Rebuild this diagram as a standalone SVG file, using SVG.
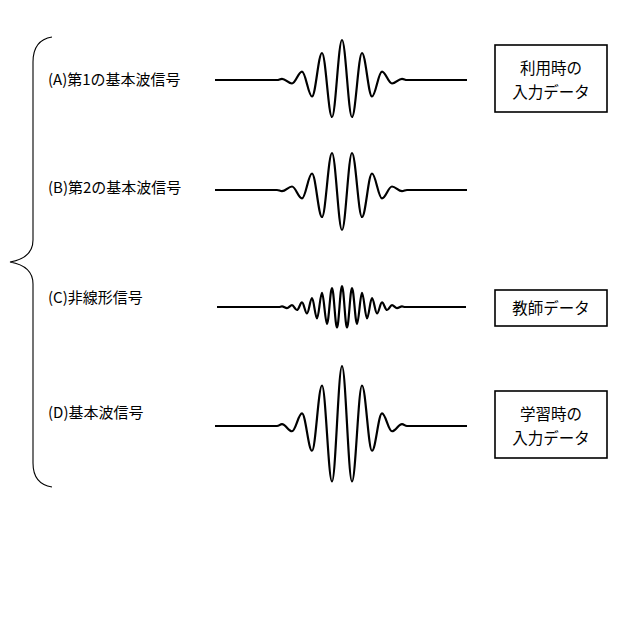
<svg xmlns="http://www.w3.org/2000/svg" xmlns:xlink="http://www.w3.org/1999/xlink" width="640" height="625" viewBox="0 0 640 625">
<style>
.w{fill:none;stroke:#000;stroke-width:2.2;stroke-linejoin:round}
.b{fill:#fff;stroke:#000;stroke-width:1.6}
.t{font-family:"Noto Sans CJK JP","Liberation Sans",sans-serif;font-size:15px;fill:#000}
.c{text-anchor:middle;font-size:15.5px}
</style>
<defs>
<path id="wave" vector-effect="non-scaling-stroke" d="M215,0 L277,0 C279,0 280,-1.2 282,-1.2 C285.6,-1.2 288.4,3.5 292,3.5 S298.4,-8.4 302,-8.4 S308.4,16.5 312,16.5 S318.4,-27 322,-27 S328.4,37 332,37 S338.4,-40 342,-40 S348.4,37 352,37 S358.4,-27 362,-27 S368.4,16.5 372,16.5 S378.4,-8.4 382,-8.4 S388.4,3.5 392,3.5 S398.4,-1.2 402,-1.2 C404,-1.2 405,0 407,0 L467,0"/>
</defs>
<rect width="640" height="625" fill="#fff"/>
<g id="brace"><path fill="none" stroke="#000" stroke-width="1.1" d="M52,37 Q33,40 33,62 L33,240 Q33,258 10,262 Q33,266 33,284 L33,463 Q33,484 52,487"/></g>
<g id="connectors">
<use id="waveA" class="w" xlink:href="#wave" transform="translate(0,80)"/>
<use id="waveB" class="w" xlink:href="#wave" transform="translate(0,190) scale(1,-1)"/>
<path id="waveC" class="w" transform="translate(0,307)" d="M217,0 L279,0 C280,0 281,-0.6 282,-0.6 C283.8,-0.6 285.2,1.1 287,1.1 S290.2,-1.9 292,-1.9 S295.2,3 297,3 S300.2,-4.6 302,-4.6 S305.2,6.5 307,6.5 S310.2,-8.8 312,-8.8 S315.2,11.4 317,11.4 S320.2,-14.1 322,-14.1 S325.2,16.8 327,16.8 S330.2,-19 332,-19 S335.2,20.5 337,20.5 S340.2,-21 342,-21 S345.2,20.5 347,20.5 S350.2,-19 352,-19 S355.2,16.8 357,16.8 S360.2,-14.1 362,-14.1 S365.2,11.4 367,11.4 S370.2,-8.8 372,-8.8 S375.2,6.5 377,6.5 S380.2,-4.6 382,-4.6 S385.2,3 387,3 S390.2,-1.9 392,-1.9 S395.2,1.1 397,1.1 S400.2,-0.6 402,-0.6 C403,-0.6 404,0 405,0 L466,0"/>
<use id="waveD" class="w" xlink:href="#wave" transform="translate(0,426) scale(1,1.5)"/>
</g>
<g id="labelA"><text class="t" x="48" y="85">(A)第1の基本波信号</text></g>
<g id="labelB"><text class="t" x="48" y="193">(B)第2の基本波信号</text></g>
<g id="labelC"><text class="t" x="48" y="303">(C)非線形信号</text></g>
<g id="labelD"><text class="t" x="48" y="418">(D)基本波信号</text></g>
<g id="box1"><rect class="b" x="495" y="45" width="112" height="67"/><text class="t c" x="551" y="74">利用時の</text><text class="t c" x="551" y="98">入力データ</text></g>
<g id="box2"><rect class="b" x="495" y="290" width="112" height="36"/><text class="t c" x="551" y="314">教師データ</text></g>
<g id="box3"><rect class="b" x="495" y="391" width="112" height="67"/><text class="t c" x="551" y="420">学習時の</text><text class="t c" x="551" y="444">入力データ</text></g>
</svg>
